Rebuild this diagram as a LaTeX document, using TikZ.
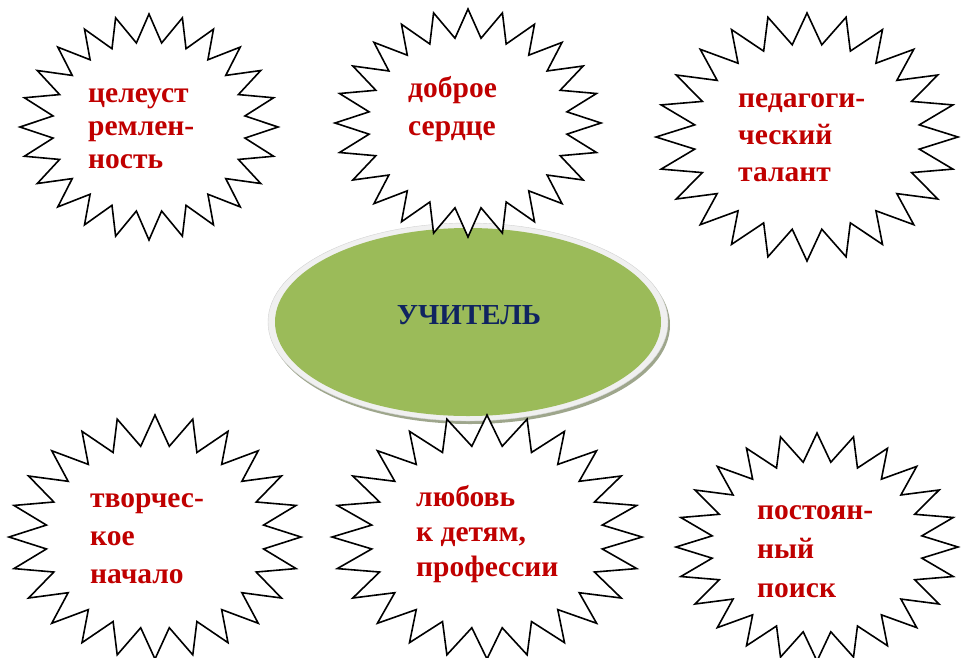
\documentclass[tikz,border=0pt]{standalone}
\usepackage{fontspec}
\setmainfont{Liberation Serif}
\definecolor{krasny}{RGB}{192,0,0}
\definecolor{sini}{RGB}{16,36,96}
\definecolor{zeleny}{RGB}{155,187,89}
\definecolor{ten}{RGB}{158,166,140}
\definecolor{obod}{RGB}{240,240,240}
\tikzset{
  seal/.style={draw=black, fill=white, line width=1.6pt, line join=miter},
  slovo/.style={text=krasny, font=\bfseries\fontsize{29.5}{37}\selectfont, align=left, anchor=base west, inner sep=0pt},
}
% звезда с 24 лучами: центр x, центр y, радиус x, радиус y
\newcommand{\zvezda}[4]{%
  \draw[seal] ({#1+#3},{#2}) \foreach \k [evaluate=\k as \r using {0.875+0.125*cos(180*\k)}] in {1,...,47} {-- ({#1+\r*#3*cos(7.5*\k)},{#2-\r*#4*sin(7.5*\k)})} -- cycle;}

\begin{document}
\begin{tikzpicture}[x=1pt,y=-1pt] %Начало рисунка, единица = 1 пиксель
  \useasboundingbox (0,0) rectangle (963,657);
  \clip (0,0) rectangle (963,657);
    %Эллипс в центре
  \fill[ten] (470,325) ellipse (200 and 99); %Тень
  \draw[fill=obod, draw=gray!35] (468,322) ellipse (200 and 99); %Светлый ободок
  \fill[zeleny] (468,322) ellipse (193 and 94); %Зелёная середина
  \node[text=sini, font=\bfseries\fontsize{29}{34}\selectfont, anchor=base, inner sep=0pt] (uchitel) at (469,324) {УЧИТЕЛЬ};
    %Звёзды
  \zvezda{149}{127}{129}{113} %Верхняя левая
  \zvezda{468}{123}{133}{114} %Верхняя средняя
  \zvezda{807}{137}{151}{124} %Верхняя правая
  \zvezda{155}{537}{146}{122} %Нижняя левая
  \zvezda{487}{537}{155}{122} %Нижняя средняя
  \zvezda{817}{547}{141}{114} %Нижняя правая
    %Подписи (точка = базовая линия последней строки)
  \node[slovo, font=\bfseries\fontsize{29.5}{33}\selectfont] (celeustr) at (88,168) {целеуст\\ремлен-\\ность};
  \node[slovo, font=\bfseries\fontsize{29.5}{38}\selectfont] (serdce) at (408,135) {доброе\\сердце};
  \node[slovo] (talant) at (738,181) {педагоги-\\ческий\\талант};
  \node[slovo, font=\bfseries\fontsize{29.5}{38}\selectfont] (nachalo) at (90,583) {творчес-\\кое\\начало};
  \node[slovo, font=\bfseries\fontsize{29.5}{35}\selectfont] (lyubov) at (416,576) {любовь\\к детям,\\профессии};
  \node[slovo, font=\bfseries\fontsize{29.5}{39}\selectfont] (poisk) at (757,597) {постоян-\\ный\\поиск};
\end{tikzpicture}
\end{document}
